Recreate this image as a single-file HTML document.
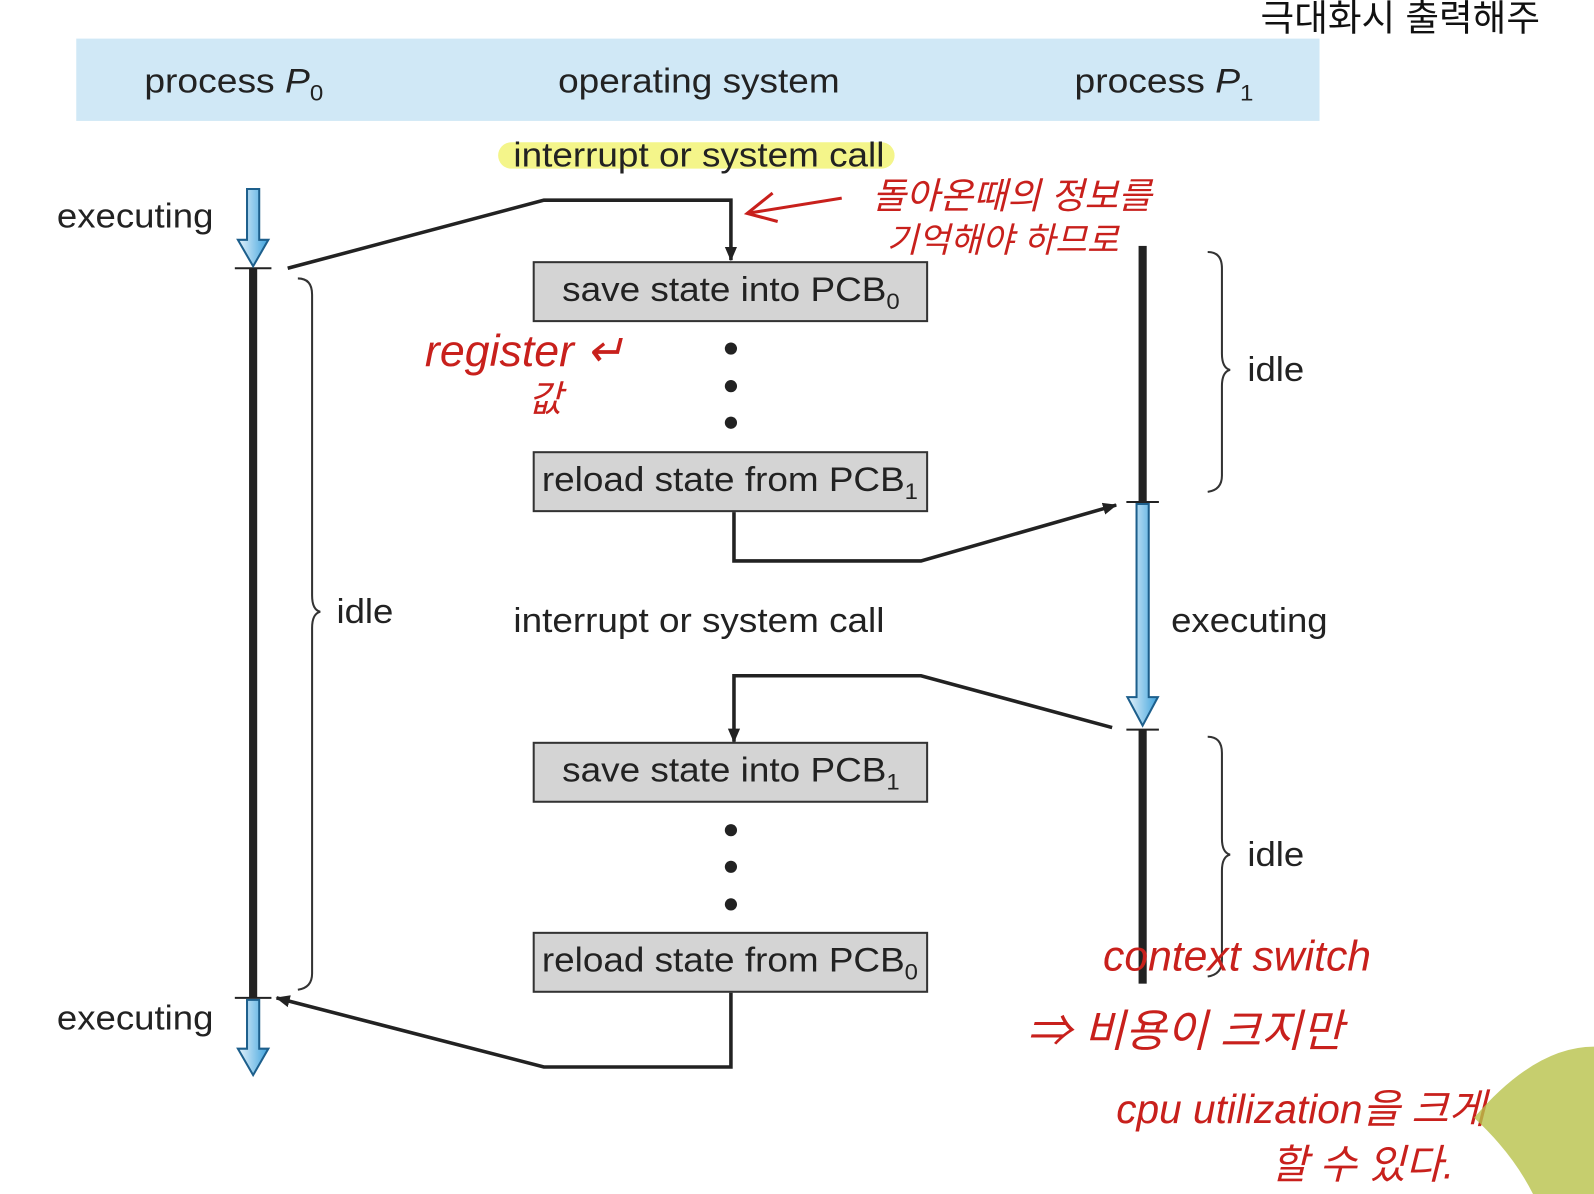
<!DOCTYPE html>
<html><head><meta charset="utf-8"><style>html,body{margin:0;padding:0;background:#fff}svg{display:block}</style></head>
<body>
<svg width="1594" height="1194" viewBox="0 0 1568 1175" preserveAspectRatio="none" xmlns="http://www.w3.org/2000/svg" font-family="Liberation Sans, sans-serif">
<defs>
<linearGradient id="bg" x1="0" x2="1"><stop offset="0" stop-color="#e6f3fb"/><stop offset="1" stop-color="#3fa3dd"/></linearGradient>
<marker id="ah" markerWidth="14" markerHeight="14" refX="13" refY="7" orient="auto" markerUnits="userSpaceOnUse"><path d="M0,1 L14,7 L0,13 Z" fill="#222"/></marker>
</defs>
<rect x="75" y="38" width="1223" height="81" fill="#d0e8f6"/>
<g font-size="34" fill="#222" lengthAdjust="spacingAndGlyphs">
<text x="142" y="91" textLength="176" lengthAdjust="spacingAndGlyphs">process <tspan font-style="italic">P</tspan><tspan font-size="22" dy="8">0</tspan></text>
<text x="549" y="91" textLength="277" lengthAdjust="spacingAndGlyphs">operating system</text>
<text x="1057" y="91" textLength="176" lengthAdjust="spacingAndGlyphs">process <tspan font-style="italic">P</tspan><tspan font-size="22" dy="8">1</tspan></text>
<rect x="490" y="140" width="390" height="26" rx="13" fill="#f4f58a"/>
<text x="505" y="164" textLength="365" lengthAdjust="spacingAndGlyphs">interrupt or system call</text>
<text x="505" y="622" textLength="365" lengthAdjust="spacingAndGlyphs">interrupt or system call</text>
<text x="56" y="224" textLength="154" lengthAdjust="spacingAndGlyphs">executing</text>
<text x="56" y="1013" textLength="154" lengthAdjust="spacingAndGlyphs">executing</text>
<text x="1152" y="622" textLength="154" lengthAdjust="spacingAndGlyphs">executing</text>
<text x="331" y="613" textLength="56" lengthAdjust="spacingAndGlyphs">idle</text>
<text x="1227" y="375" textLength="56" lengthAdjust="spacingAndGlyphs">idle</text>
<text x="1227" y="852" textLength="56" lengthAdjust="spacingAndGlyphs">idle</text>
</g>
<rect x="245" y="264" width="8" height="718" fill="#222"/>
<line x1="231" y1="264" x2="267" y2="264" stroke="#222" stroke-width="2"/>
<line x1="231" y1="982" x2="267" y2="982" stroke="#222" stroke-width="2"/>
<path d="M243,186 h12 v50 h9 l-15,26 l-15,-26 h9 z" fill="url(#bg)" stroke="#1d5f8c" stroke-width="2"/>
<path d="M243,984 h12 v48 h9 l-15,26 l-15,-26 h9 z" fill="url(#bg)" stroke="#1d5f8c" stroke-width="2"/>
<rect x="1120" y="242" width="8" height="252" fill="#222"/>
<rect x="1120" y="718" width="8" height="250" fill="#222"/>
<path d="M1118,496 h12 v190 h9 l-15,28 l-15,-28 h9 z" fill="url(#bg)" stroke="#1d5f8c" stroke-width="2"/>
<line x1="1108" y1="494" x2="1140" y2="494" stroke="#222" stroke-width="2"/>
<line x1="1108" y1="718" x2="1140" y2="718" stroke="#222" stroke-width="2"/>
<g fill="none" stroke="#333" stroke-width="2">
<path d="M293,274 q14,0 14,16 v296 q0,14 8,16 q-8,2 -8,16 v340 q0,14 -14,16"/>
<path d="M1188,248 q14,0 14,16 v84 q0,14 8,16 q-8,2 -8,16 v88 q0,14 -14,16"/>
<path d="M1188,725 q14,0 14,16 v84 q0,14 8,16 q-8,2 -8,16 v88 q0,14 -14,16"/>
</g>
<g fill="#d4d4d4" stroke="#333" stroke-width="2">
<rect x="525" y="258" width="387" height="58"/>
<rect x="525" y="445" width="387" height="58"/>
<rect x="525" y="731" width="387" height="58"/>
<rect x="525" y="918" width="387" height="58"/>
</g>
<g font-size="34" fill="#222">
<text x="553" y="296" textLength="332" lengthAdjust="spacingAndGlyphs">save state into PCB<tspan font-size="22" dy="8">0</tspan></text>
<text x="533" y="483" textLength="370" lengthAdjust="spacingAndGlyphs">reload state from PCB<tspan font-size="22" dy="8">1</tspan></text>
<text x="553" y="769" textLength="332" lengthAdjust="spacingAndGlyphs">save state into PCB<tspan font-size="22" dy="8">1</tspan></text>
<text x="533" y="956" textLength="370" lengthAdjust="spacingAndGlyphs">reload state from PCB<tspan font-size="22" dy="8">0</tspan></text>
</g>
<g fill="#222">
<circle cx="719" cy="343" r="6"/><circle cx="719" cy="380" r="6"/><circle cx="719" cy="416" r="6"/>
<circle cx="719" cy="817" r="6"/><circle cx="719" cy="853" r="6"/><circle cx="719" cy="890" r="6"/>
</g>
<g fill="none" stroke="#222" stroke-width="3.5">
<path d="M283,264 L535,197 H719 V256" marker-end="url(#ah)"/>
<path d="M722,504 V552 H906 L1098,497" marker-end="url(#ah)"/>
<path d="M1094,716 L906,665 H722 V730" marker-end="url(#ah)"/>
<path d="M719,977 V1050 H535 L272,982" marker-end="url(#ah)"/>
</g>
<g fill="#c8201c" font-family="Liberation Sans, Noto Sans CJK KR, sans-serif" font-style="italic">
<text x="858" y="205" font-size="36">돌아온때의 정보를</text>
<text x="872" y="248" font-size="34">기억해야 하므로</text>
<text x="418" y="360" font-size="44">register ↵</text>
<text x="520" y="405" font-size="36">값</text>
<text x="1085" y="955" font-size="42">context switch</text>
<text x="1010" y="1030" font-size="44">⇒ 비용이 크지만</text>
<text x="1098" y="1105" font-size="40">cpu utilization을 크게</text>
<text x="1250" y="1160" font-size="40">할 수 있다.</text>
</g>
<text x="1240" y="30" font-size="36" fill="#111" font-family="Liberation Sans, Noto Sans CJK KR, sans-serif">극대화시 출력해주</text>
<path d="M735,210 L828,195" stroke="#c8201c" stroke-width="3" fill="none"/>
<path d="M760,190 L735,210 L765,218" stroke="#c8201c" stroke-width="3" fill="none"/>
<path d="M1450,1100 q60,-70 118,-70 v145 h-60 q-20,-40 -58,-75 z" fill="#b8c24a" opacity="0.8"/>
</svg>
</body></html>
